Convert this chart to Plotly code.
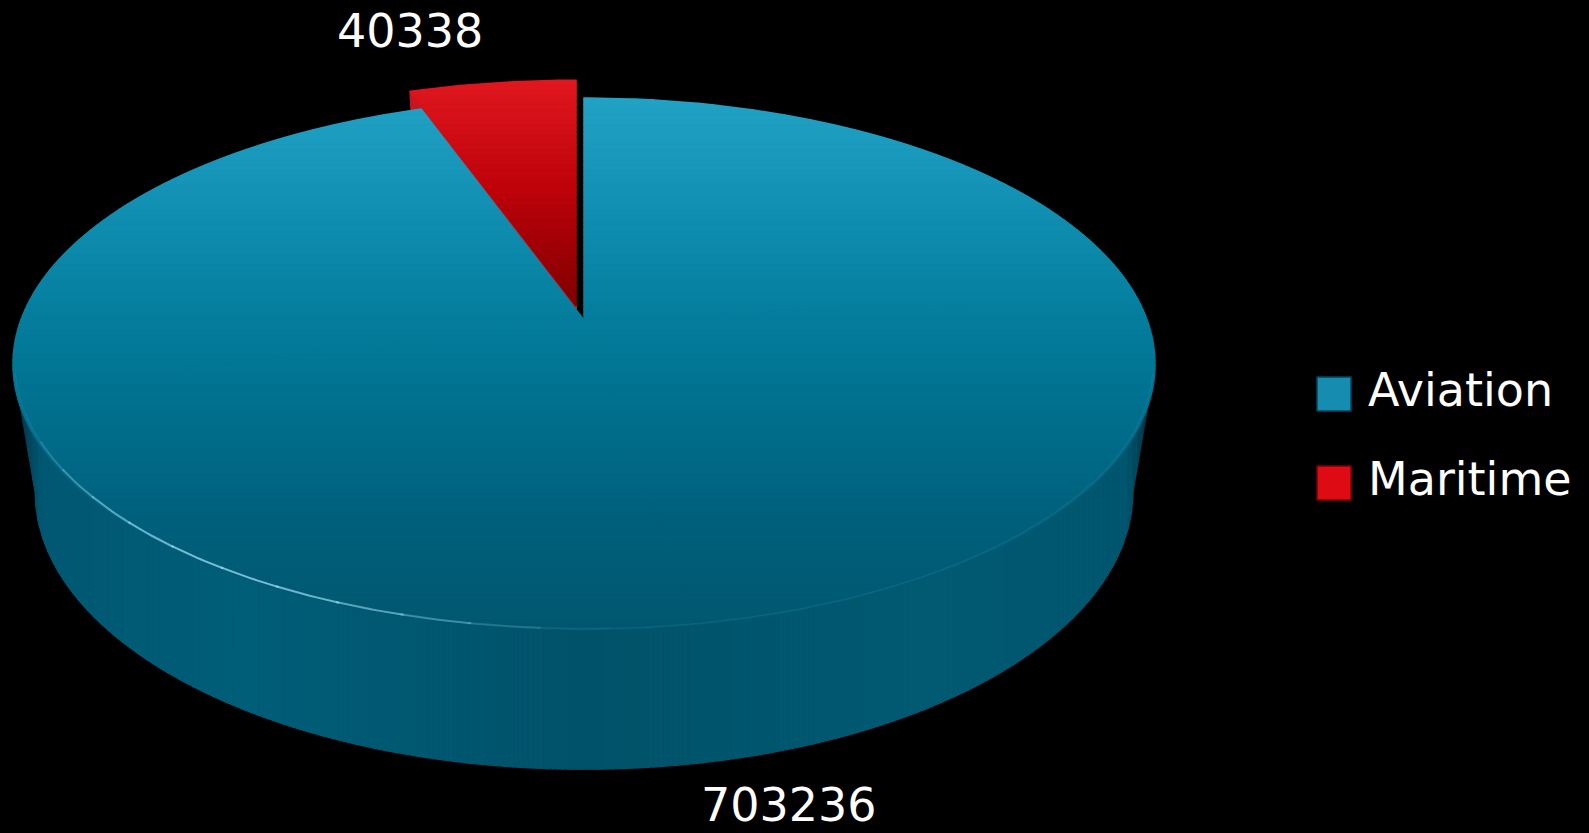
import numpy as np
import plotly.graph_objects as go

# ---------------- data ----------------
categories = ["Aviation", "Maritime"]
values = [703236, 40338]

# ---------------- style / geometry ----------------
FIG_W, FIG_H = 1589, 833
FONT = "DejaVu Sans"
CX = 584.0
TOP = {"A": 563.1, "B": 205.8, "E": 320.0, "C": 0.1654}   # top plane projection
BOT = {"A": 541.4, "B": 196.0, "E": 446.0, "C": 0.1654}   # bottom plane projection
START_DEG = 90.0
PULL_PX = {"Aviation": (0.0, 0.0), "Maritime": (-8.0, -14.0)}   # exploded offset on screen
RADIUS = {"Aviation": 1.0, "Maritime": 1.02}
LABEL_R = {"Aviation": 1.46, "Maritime": 1.31}
LABEL_DX = {"Aviation": 22, "Maritime": 12}
LABEL_DY = {"Aviation": -4, "Maritime": 0}
LABEL_ANCHOR = {"Aviation": "center", "Maritime": "right"}
TOP_STOPS = {
    "Aviation": [(95, (34, 163, 198)), (200, (18, 145, 180)), (320, (4, 125, 156)),
                 (420, (0, 110, 140)), (520, (0, 96, 124)), (640, (0, 86, 110))],
    "Maritime": [(75, (226, 24, 32)), (190, (190, 2, 10)), (315, (122, 0, 0))],
}
SIDE_STOPS = [(-1.0, (0, 44, 62)), (-0.95, (0, 88, 114)), (-0.6, (0, 94, 120)),
              (0.0, (0, 82, 106)), (0.6, (0, 90, 114)), (0.95, (0, 86, 110)), (1.0, (0, 44, 62))]
CUT_COLOR = {"Aviation": "rgb(0,90,115)", "Maritime": "rgb(200,22,32)"}
LEGEND_COLORS = {"Aviation": ("rgb(22,140,176)", "rgb(0,70,92)"),
                 "Maritime": ("rgb(222,10,20)", "rgb(120,0,0)")}
LEG_X, LEG_Y0, LEG_DY, SW = 1317, 377, 89, 34
FONT_SIZE = 46


def proj(X, Z, m, shift=(0.0, 0.0)):
    X = np.asarray(X, float)
    Z = np.asarray(Z, float)
    w = 1 + m["C"] * Z
    return CX + m["A"] * X / w + shift[0], (m["E"] - m["B"] * Z) / w + shift[1]


def interp_color(stops, v):
    if v <= stops[0][0]:
        c = stops[0][1]
    elif v >= stops[-1][0]:
        c = stops[-1][1]
    else:
        for (a, ca), (b, cb) in zip(stops[:-1], stops[1:]):
            if a <= v <= b:
                s = (v - a) / (b - a)
                c = tuple(ca[i] + s * (cb[i] - ca[i]) for i in range(3))
                break
    return "rgb(%d,%d,%d)" % tuple(int(round(x)) for x in c)


def clip_half(poly, val, axis, keep_ge):
    out = []
    n = len(poly)
    for i in range(n):
        P = poly[i]
        Q = poly[(i + 1) % n]
        pin = P[axis] >= val if keep_ge else P[axis] <= val
        qin = Q[axis] >= val if keep_ge else Q[axis] <= val
        if pin:
            out.append(P)
        if pin != qin:
            s = (val - P[axis]) / (Q[axis] - P[axis])
            out.append((P[0] + s * (Q[0] - P[0]), P[1] + s * (Q[1] - P[1])))
    return out


def band(poly, lo, hi, axis):
    p = clip_half(poly, lo, axis, True)
    if len(p) < 3:
        return []
    p = clip_half(p, hi, axis, False)
    return p if len(p) >= 3 else []


def dedupe(pts, eps=0.05):
    out = []
    for p in pts:
        if not out or abs(p[0] - out[-1][0]) > eps or abs(p[1] - out[-1][1]) > eps:
            out.append(p)
    while len(out) > 1 and abs(out[0][0] - out[-1][0]) <= eps and abs(out[0][1] - out[-1][1]) <= eps:
        out.pop()
    return out


fig = go.Figure()


def add_poly(pts, color, width=1.0):
    pts = dedupe(pts)
    if len(pts) < 3:
        return
    xs = [p[0] for p in pts] + [pts[0][0]]
    ys = [p[1] for p in pts] + [pts[0][1]]
    fig.add_trace(go.Scatter(x=xs, y=ys, mode="lines", fill="toself", fillcolor=color,
                             line=dict(color=color, width=width), hoverinfo="skip",
                             showlegend=False))


# ---------------- slice geometry from data ----------------
total = float(sum(values))
slices = []
t0 = START_DEG
for cat, v in zip(categories, values):
    span = 360.0 * v / total
    ts, te = t0, t0 - span
    t0 = te
    tm = np.radians((ts + te) / 2)
    slices.append(dict(cat=cat, v=v, ts=ts, te=te, tm=tm, pull=PULL_PX[cat], r=RADIUS[cat]))

c = TOP["C"]
front_a = np.degrees(np.pi + np.arcsin(c))
front_b = np.degrees(2 * np.pi - np.arcsin(c))

# ---------------- side (front wall) ----------------
for s in slices:
    lo_t, hi_t = min(s["te"], s["ts"]), max(s["te"], s["ts"])
    for k in (-2, -1, 0, 1):
        a = max(lo_t, front_a + 360 * k)
        b = min(hi_t, front_b + 360 * k)
        if b - a < 0.5:
            continue
        tt = np.radians(np.linspace(a, b, 240))
        X = s["r"] * np.cos(tt)
        Z = s["r"] * np.sin(tt)
        xt, yt = proj(X, Z, TOP, s["pull"])
        xb, yb = proj(X, Z, BOT, s["pull"])
        poly = list(zip(xt, yt)) + list(zip(xb[::-1], yb[::-1]))
        xmin, xmax = min(p[0] for p in poly), max(p[0] for p in poly)
        step = 5.0
        xx = xmin
        while xx < xmax:
            bp = band(poly, xx, xx + step, 0)
            if bp:
                u = (xx + step / 2 - CX) / (TOP["A"] / np.sqrt(1 - c * c))
                add_poly(bp, interp_color(SIDE_STOPS, u), 1.2)
            xx += step

# ---------------- visible cut faces of pulled slices ----------------
for s in slices:
    if s["pull"] == (0.0, 0.0):
        continue
    for t, sign in ((s["ts"], 1), (s["te"], -1)):
        tr = np.radians(t)
        nz = np.cos(tr) if sign == 1 else -np.cos(tr)
        if -nz < 0.05:
            continue
        X = [0.0, s["r"] * np.cos(tr)]
        Z = [0.0, s["r"] * np.sin(tr)]
        xt, yt = proj(X, Z, TOP, s["pull"])
        xb, yb = proj(X, Z, BOT, s["pull"])
        quad = [(xt[0], yt[0]), (xt[1], yt[1]), (xb[1], yb[1]), (xb[0], yb[0])]
        add_poly(quad, CUT_COLOR[s["cat"]], 2.0)

# ---------------- top faces (split into convex sub-sectors, banded gradient) ----------------
for s in sorted(slices, key=lambda d: abs(d["pull"][0]) + abs(d["pull"][1])):
    span = abs(s["ts"] - s["te"])
    parts = int(np.ceil(span / 90.0))
    edges = np.linspace(s["ts"], s["te"], parts + 1)
    for a, b in zip(edges[:-1], edges[1:]):
        n = max(8, int(abs(a - b) * 2))
        tt = np.radians(np.linspace(a, b, n))
        X = np.concatenate([[0.0], s["r"] * np.cos(tt)])
        Z = np.concatenate([[0.0], s["r"] * np.sin(tt)])
        xt, yt = proj(X, Z, TOP, s["pull"])
        poly = list(zip(xt, yt))
        ymin, ymax = yt.min(), yt.max()
        step = 5.0
        yy = np.floor(ymin / step) * step
        while yy < ymax:
            bp = band(poly, yy, yy + step, 1)
            if bp:
                add_poly(bp, interp_color(TOP_STOPS[s["cat"]], yy + step / 2), 1.5)
            yy += step

# ---------------- rim highlight ----------------
tt = np.radians(np.linspace(front_a + 2, front_b - 2, 200))
xr, yr = proj(0.997 * np.cos(tt), 0.997 * np.sin(tt), TOP)
fig.add_trace(go.Scatter(x=xr, y=yr, mode="lines", line=dict(color="rgba(40,150,185,0.22)", width=1.5),
                         hoverinfo="skip", showlegend=False))
seg_edges = np.linspace(200, 272, 13)
for a, b in zip(seg_edges[:-1], seg_edges[1:]):
    mid = (a + b) / 2
    alpha = 0.8 * np.sin(np.pi * (mid - 200) / 72) ** 1.5
    tt = np.radians(np.linspace(a, b + 0.3, 12))
    xr, yr = proj(0.996 * np.cos(tt), 0.996 * np.sin(tt), TOP)
    fig.add_trace(go.Scatter(x=xr, y=yr, mode="lines",
                             line=dict(color="rgba(150,215,235,%.2f)" % alpha, width=2),
                             hoverinfo="skip", showlegend=False))

# ---------------- value labels ----------------
annotations = []
for s in slices:
    R = LABEL_R[s["cat"]]
    lx, ly = proj(R * np.cos(s["tm"]), R * np.sin(s["tm"]), TOP, s["pull"])
    annotations.append(dict(x=float(lx) + LABEL_DX[s["cat"]], y=float(ly) + LABEL_DY[s["cat"]],
                            xref="x", yref="y", text=str(s["v"]),
                            showarrow=False, xanchor=LABEL_ANCHOR[s["cat"]], yanchor="middle",
                            font=dict(family=FONT, size=FONT_SIZE, color="white")))

# ---------------- legend ----------------
shapes = []
for i, cat in enumerate(categories):
    y0 = LEG_Y0 + i * LEG_DY
    fill, border = LEGEND_COLORS[cat]
    shapes.append(dict(type="rect", xref="x", yref="y", x0=LEG_X, x1=LEG_X + SW, y0=y0, y1=y0 + SW,
                       fillcolor=fill, line=dict(color=border, width=1.5)))
    annotations.append(dict(x=LEG_X + SW + 15, y=y0 + SW / 2 - 4, xref="x", yref="y", text=cat,
                            showarrow=False, xanchor="left", yanchor="middle",
                            font=dict(family=FONT, size=FONT_SIZE, color="white")))

fig.update_layout(
    width=FIG_W, height=FIG_H,
    margin=dict(l=0, r=0, t=0, b=0),
    paper_bgcolor="black", plot_bgcolor="black",
    xaxis=dict(range=[0, FIG_W], visible=False, fixedrange=True),
    yaxis=dict(range=[FIG_H, 0], visible=False, fixedrange=True),
    shapes=shapes, annotations=annotations, showlegend=False,
)

fig.write_html("out.html", config={"displayModeBar": False},
               post_script="document.body.style.margin='0px';")
